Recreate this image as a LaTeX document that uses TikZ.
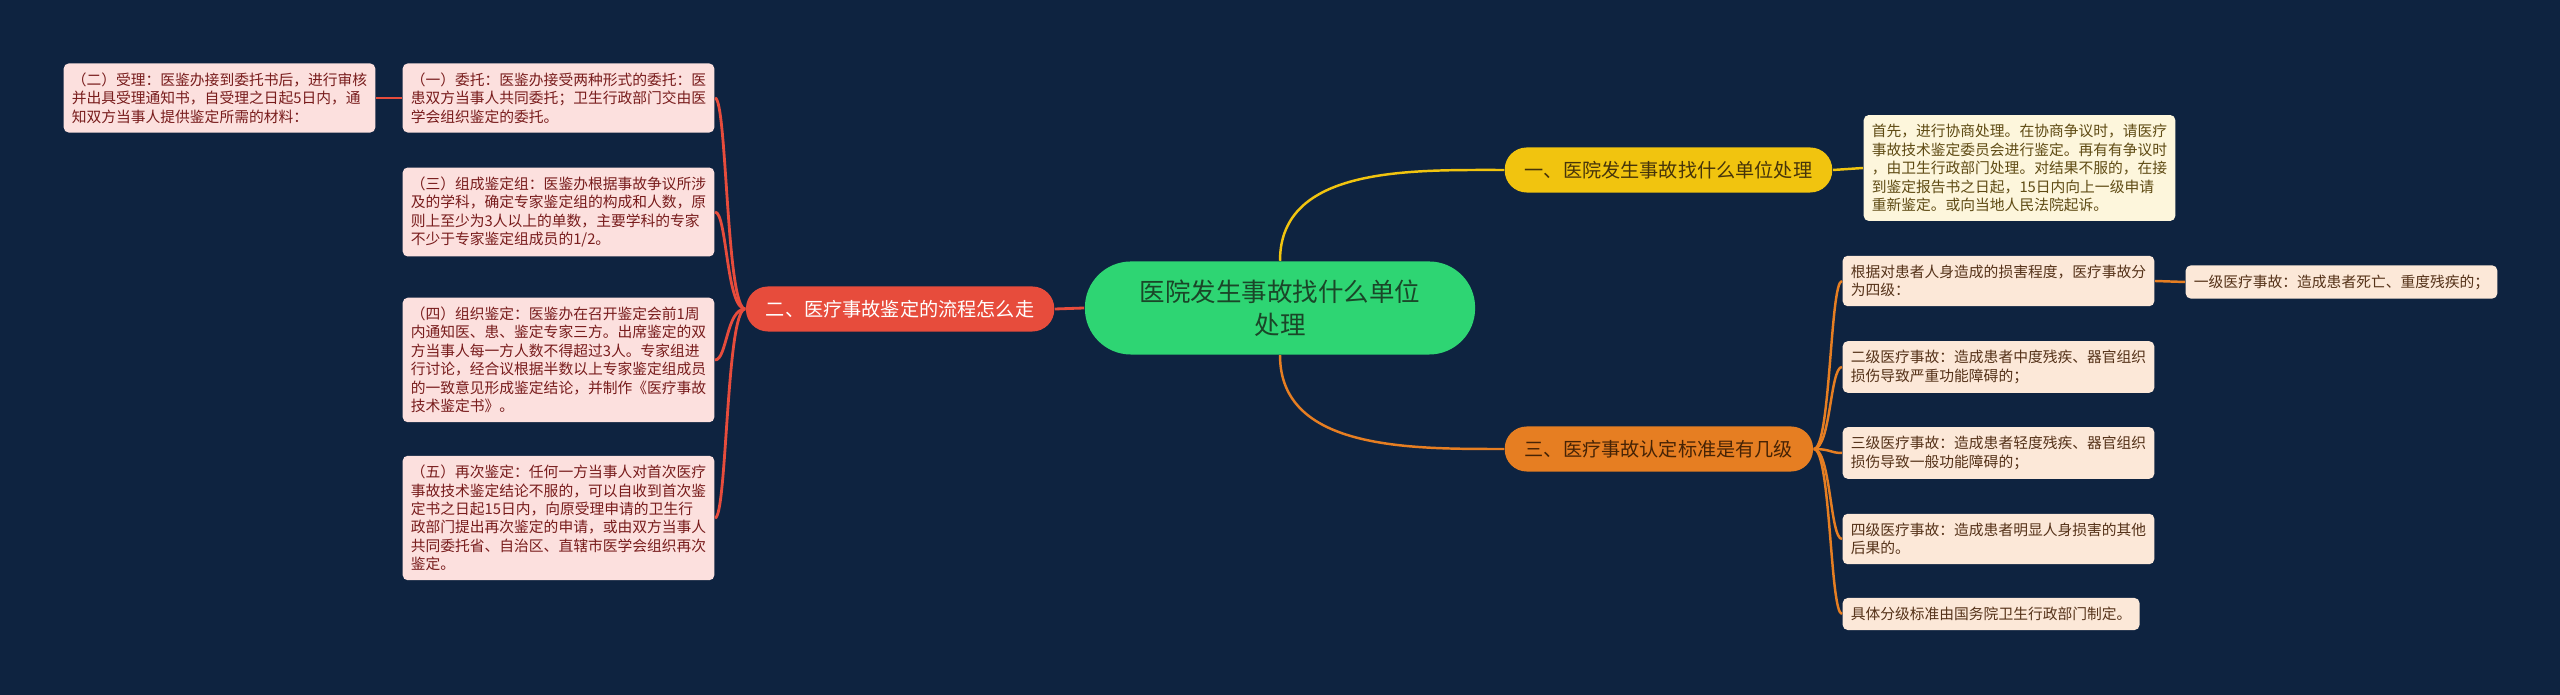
\documentclass[tikz,border=0pt]{standalone}
\usepackage{fontspec}
\setmainfont{Noto Sans CJK SC}

\definecolor{bgnavy}{RGB}{14,35,64}
\definecolor{ctrgreen}{RGB}{46,213,115}
\definecolor{ctrtext}{RGB}{26,70,40}
\definecolor{yellowmain}{RGB}{241,196,15}
\definecolor{yellowtext}{RGB}{70,52,10}
\definecolor{creamfill}{RGB}{253,246,220}
\definecolor{creamtext}{RGB}{95,75,20}
\definecolor{redmain}{RGB}{231,76,60}
\definecolor{pinkfill}{RGB}{252,224,222}
\definecolor{pinktext}{RGB}{120,28,28}
\definecolor{orangemain}{RGB}{230,126,34}
\definecolor{orangetext}{RGB}{70,35,5}
\definecolor{peachfill}{RGB}{252,232,216}
\definecolor{peachtext}{RGB}{85,50,25}

\tikzset{
  leaf/.style={rounded corners=0.05cm, inner xsep=2.3pt, inner ysep=2.6pt, align=left,
    font=\fontsize{4.2pt}{5.25pt}\selectfont},
  pinkleaf/.style={leaf, fill=pinkfill, text=pinktext},
  creamleaf/.style={leaf, fill=creamfill, text=creamtext},
  peachleaf/.style={leaf, fill=peachfill, text=peachtext},
  branch/.style={rounded corners=0.22cm, minimum height=0.45cm, inner xsep=0.2cm,
    font=\fontsize{5.45pt}{6.5pt}\selectfont},
  redline/.style={draw=redmain, line width=0.8pt},
  yellowline/.style={draw=yellowmain, line width=0.7pt},
  orangeline/.style={draw=orangemain, line width=0.7pt},
  leftbend/.style={to path={.. controls +(-19,0) and +(12,0) .. (\tikztotarget)}},
  rightbend/.style={to path={.. controls +(17,0) and +(-12,0) .. (\tikztotarget)}}
}

\begin{document}
\begin{tikzpicture}[x=0.01cm, y=-0.01cm]
  \fill[bgnavy] (0,0) rectangle (2560,695);
  \useasboundingbox (0,0) rectangle (2560,695);

  % centre
  \node[fill=ctrgreen, text=ctrtext, rounded corners=0.46cm, minimum width=3.9cm, minimum height=0.93cm,
    align=center, font=\fontsize{7.25pt}{9.4pt}\selectfont] (ctr) at (1280,308) {医院发生事故找什么单位\\处理};

  % branch one
  \node[branch, fill=yellowmain, text=yellowtext, anchor=west] (b1) at (1504,170) {一、医院发生事故找什么单位处理};
  \node[creamleaf, anchor=west] (c1) at (1863,168) {首先，进行协商处理。在协商争议时，请医疗\\事故技术鉴定委员会进行鉴定。再有有争议时\\，由卫生行政部门处理。对结果不服的，在接\\到鉴定报告书之日起，15日内向上一级申请\\重新鉴定。或向当地人民法院起诉。};

  % branch two
  \node[branch, fill=redmain, text=white, anchor=east] (b2) at (1055,309) {二、医疗事故鉴定的流程怎么走};
  \node[pinkleaf, anchor=east] (p1) at (715,98) {（一）委托：医鉴办接受两种形式的委托：医\\患双方当事人共同委托；卫生行政部门交由医\\学会组织鉴定的委托。};
  \node[pinkleaf, anchor=east] (p2) at (376,98) {（二）受理：医鉴办接到委托书后，进行审核\\并出具受理通知书，自受理之日起5日内，通\\知双方当事人提供鉴定所需的材料：};
  \node[pinkleaf, anchor=east] (p3) at (715,212) {（三）组成鉴定组：医鉴办根据事故争议所涉\\及的学科，确定专家鉴定组的构成和人数，原\\则上至少为3人以上的单数，主要学科的专家\\不少于专家鉴定组成员的1/2。};
  \node[pinkleaf, anchor=east] (p4) at (715,360) {（四）组织鉴定：医鉴办在召开鉴定会前1周\\内通知医、患、鉴定专家三方。出席鉴定的双\\方当事人每一方人数不得超过3人。专家组进\\行讨论，经合议根据半数以上专家鉴定组成员\\的一致意见形成鉴定结论，并制作《医疗事故\\技术鉴定书》。};
  \node[pinkleaf, anchor=east] (p5) at (715,518) {（五）再次鉴定：任何一方当事人对首次医疗\\事故技术鉴定结论不服的，可以自收到首次鉴\\定书之日起15日内，向原受理申请的卫生行\\政部门提出再次鉴定的申请，或由双方当事人\\共同委托省、自治区、直辖市医学会组织再次\\鉴定。};

  % branch three
  \node[branch, fill=orangemain, text=orangetext, anchor=west] (b3) at (1504,449) {三、医疗事故认定标准是有几级};
  \node[peachleaf, anchor=west] (r1) at (1842,281) {根据对患者人身造成的损害程度，医疗事故分\\为四级：};
  \node[peachleaf, anchor=west] (r1a) at (2185,282) {一级医疗事故：造成患者死亡、重度残疾的；};
  \node[peachleaf, anchor=west] (r2) at (1842,367) {二级医疗事故：造成患者中度残疾、器官组织\\损伤导致严重功能障碍的；};
  \node[peachleaf, anchor=west] (r3) at (1842,453) {三级医疗事故：造成患者轻度残疾、器官组织\\损伤导致一般功能障碍的；};
  \node[peachleaf, anchor=west] (r4) at (1842,539) {四级医疗事故：造成患者明显人身损害的其他\\后果的。};
  \node[peachleaf, anchor=west] (r5) at (1842,614) {具体分级标准由国务院卫生行政部门制定。};

  % connectors
  \draw[yellowline] (ctr.north) to[out=90, in=180] (b1.west);
  \draw[yellowline] (b1.east) -- (c1.west);
  \draw[redline] (ctr.west) -- (b2.east);
  \foreach \p in {p1,p3,p4,p5}
    \draw[redline] (b2.west) to[leftbend] (\p.east);
  \draw[redline] (p1.west) -- (p2.east);
  \draw[orangeline] (ctr.south) to[out=-90, in=180] (b3.west);
  \foreach \r in {r1,r2,r3,r4,r5}
    \draw[orangeline] (b3.east) to[rightbend] (\r.west);
  \draw[orangeline] (r1.east) -- (r1a.west);
\end{tikzpicture}
\end{document}
